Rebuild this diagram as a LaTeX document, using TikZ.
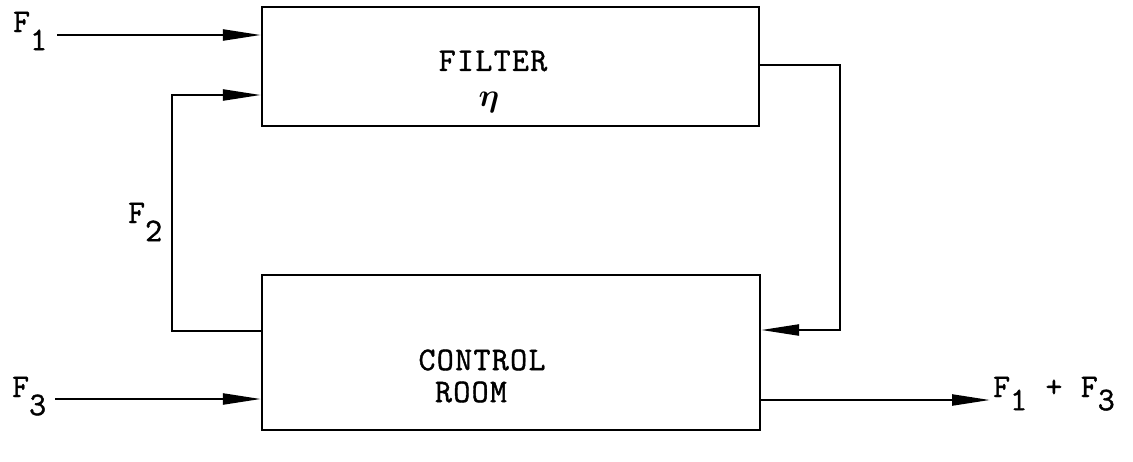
\documentclass[tikz,border=0pt]{standalone}
\usepackage{fontspec}
\usepackage{amsmath}
\usepackage{bm}
\usetikzlibrary{arrows.meta}
\newfontfamily\tw{Latin Modern Mono}[LetterSpace=4,FakeBold=1.2]
\newcommand\Fsub[2]{F\raisebox{-#1}{#2}}
\begin{document}
\begin{tikzpicture}[x=1pt,y=-1pt, line width=2.3pt,
  box/.style={draw, rectangle, inner sep=0pt},
  flow/.style={-{Triangle[length=38pt,width=11pt]}},
  lbl/.style={font=\tw\fontsize{33}{36}\selectfont, inner sep=0pt}]
\useasboundingbox (0,0) rectangle (1133,461);
% boxes
\node[box, minimum width=497pt, minimum height=119pt] (filter) at (510.5,66.5) {};
\node[box, minimum width=498pt, minimum height=155pt] (control) at (511,352.5) {};
% box texts
\node[lbl] (ftxt) at (493,61) {FILTER};
\node[lbl] (eta) at (489,102) {\scalebox{1.3}{$\bm{\eta}$}};
\node[lbl] (ctxt) at (482,360) {CONTROL};
\node[lbl] (rtxt) at (471,392) {ROOM};
% labels
\node[lbl, anchor=base west] (F1) at (12,32) {\Fsub{0.55em}{1}};
\node[lbl, anchor=base west] (F2) at (127,223) {\Fsub{0.55em}{2}};
\node[lbl, anchor=base west] (F3) at (11,397) {\Fsub{0.55em}{3}};
\node[lbl, anchor=base west] (Fout) at (992,397) {\Fsub{0.4em}{1} + \Fsub{0.4em}{3}};
% coordinates
\coordinate (f1s) at (57,35);
\coordinate (f2in) at (0,95);
\coordinate (l2) at (172,331);
\coordinate (r) at (840,65);
\coordinate (rb) at (0,330);
\coordinate (f3s) at (55,399);
\coordinate (oe) at (990,400);
% connectors
\draw[flow] (f1s) -- (f1s -| filter.west);
\draw[flow] (l2 -| control.west) -- (l2) -- (l2 |- f2in) -- (f2in -| filter.west);
\draw[flow] (filter.east |- r) -- (r) -- (r |- rb) -- (rb -| control.east);
\draw[flow] (f3s) -- (f3s -| control.west);
\draw[flow] (oe -| control.east) -- (oe);
\end{tikzpicture}
\end{document}
